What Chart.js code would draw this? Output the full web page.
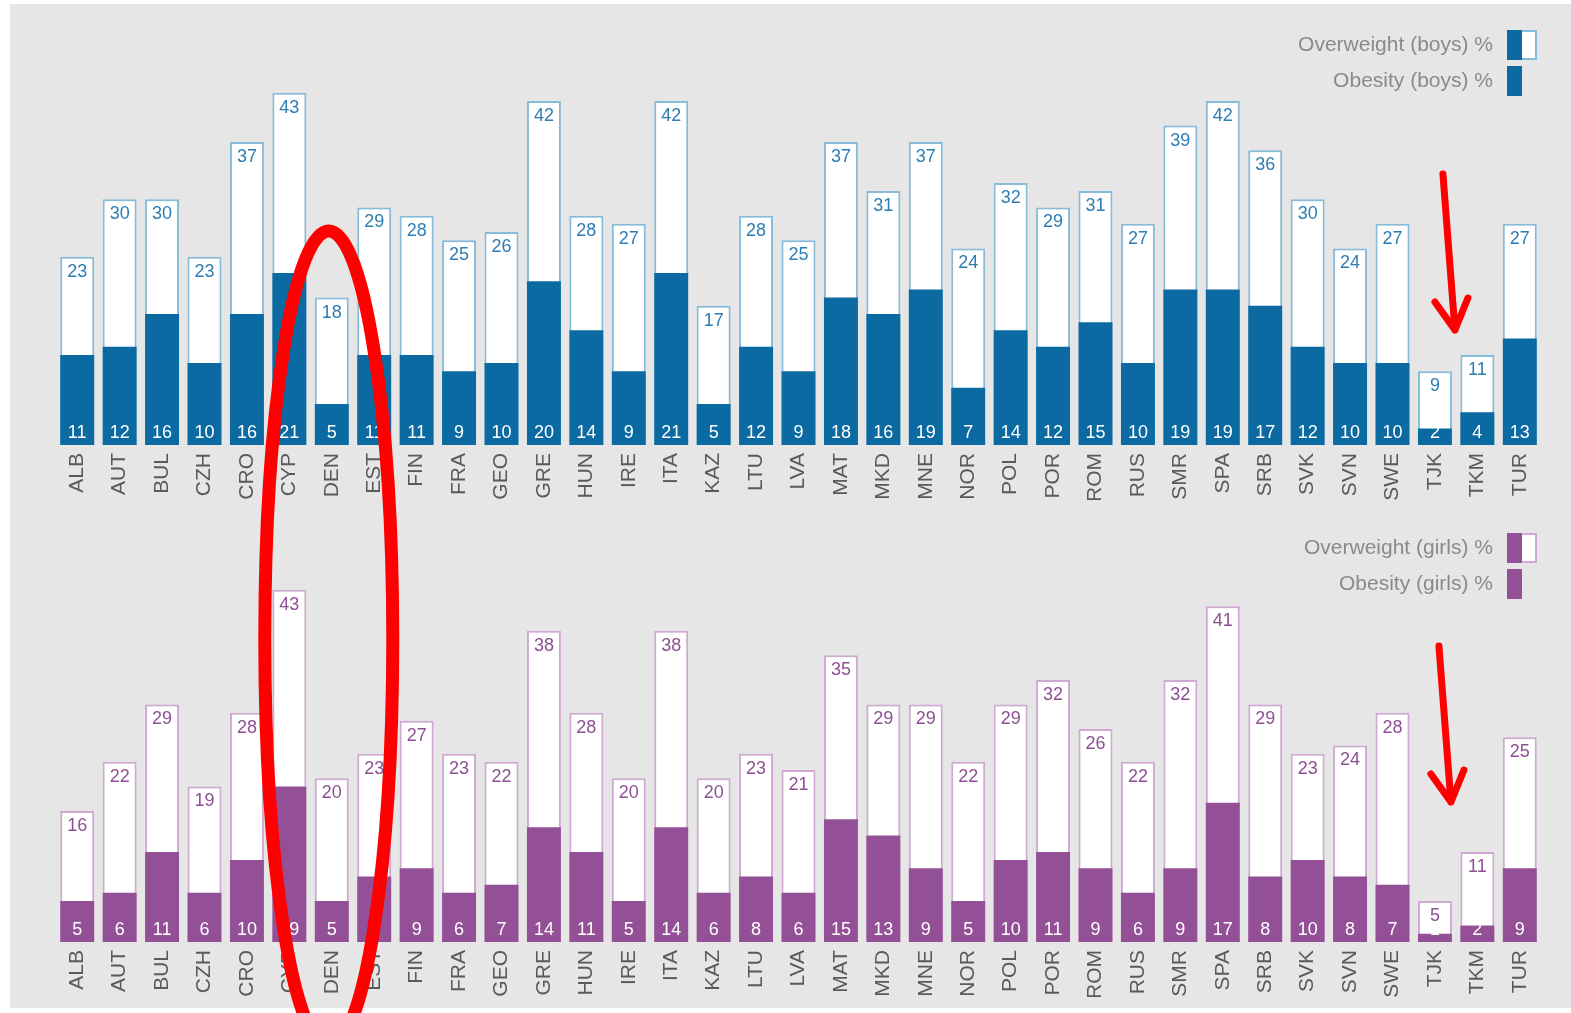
<!DOCTYPE html>
<html>
<head>
<meta charset="utf-8">
<script src="https://cdn.jsdelivr.net/npm/chart.js@4.4.0/dist/chart.umd.min.js"></script>
<style>
body{margin:0;background:#fff;width:1571px;height:1013px;overflow:hidden;position:relative}
#bg{position:absolute;left:10px;top:4px;width:1561px;height:1004px;background:#e6e6e6}
canvas{position:absolute;left:0}
</style>
</head>
<body>
<div id="bg"></div>
<canvas id="boysChart" width="1571" height="500" style="top:0"></canvas>
<canvas id="girlsChart" width="1571" height="500" style="top:497px"></canvas>
<canvas id="marks" width="1571" height="1013" style="top:0;pointer-events:none"></canvas>
<script>
// data
var countries = ['ALB','AUT','BUL','CZH','CRO','CYP','DEN','EST','FIN','FRA','GEO','GRE','HUN','IRE','ITA','KAZ','LTU','LVA','MAT','MKD','MNE','NOR','POL','POR','ROM','RUS','SMR','SPA','SRB','SVK','SVN','SWE','TJK','TKM','TUR'];
var boysOverweight = [23,30,30,23,37,43,18,29,28,25,26,42,28,27,42,17,28,25,37,31,37,24,32,29,31,27,39,42,36,30,24,27,9,11,27];
var boysObesity    = [11,12,16,10,16,21,5,11,11,9,10,20,14,9,21,5,12,9,18,16,19,7,14,12,15,10,19,19,17,12,10,10,2,4,13];
var girlsOverweight = [16,22,29,19,28,43,20,23,27,23,22,38,28,20,38,20,23,21,35,29,29,22,29,32,26,22,32,41,29,23,24,28,5,11,25];
var girlsObesity    = [5,6,11,6,10,19,5,8,9,6,7,14,11,5,14,6,8,6,15,13,9,5,10,11,9,6,9,17,8,10,8,7,1,2,9];

var labelFont = '"Liberation Sans", Arial, sans-serif';

// numbers inside the bars + the small legend top right
var barLabels = {
  id: 'barLabels',
  afterDatasetsDraw: function(chart, args, opts) {
    var ctx = chart.ctx;
    var fat = chart.data.datasets[0], over = chart.data.datasets[1];
    var meta = chart.getDatasetMeta(1);
    ctx.save();
    ctx.font = '18px ' + labelFont;
    ctx.textAlign = 'center';
    ctx.textBaseline = 'middle';
    meta.data.forEach(function(bar, i) {
      ctx.fillStyle = opts.textColor;
      ctx.fillText(over.data[i], bar.x, bar.y + 15);
      ctx.fillStyle = '#fff';
      ctx.fillText(fat.data[i], bar.x, bar.base - 12);
    });

    // legend
    var right = 1493, bx = 1507, y0 = opts.legendTop;
    ctx.font = '21px ' + labelFont;
    ctx.textAlign = 'right';
    ctx.fillStyle = '#8a8a8a';
    ctx.fillText(over.label, right, y0);
    ctx.fillText(fat.label, right, y0 + 36);
    ctx.fillStyle = '#fff';
    ctx.fillRect(bx, y0 - 15, 30, 30);
    ctx.strokeStyle = opts.lineColor;
    ctx.lineWidth = 2;
    ctx.strokeRect(bx + 1, y0 - 14, 28, 28);
    ctx.fillStyle = opts.fillColor;
    ctx.fillRect(bx, y0 - 15, 15, 30);
    ctx.fillRect(bx, y0 + 21, 15, 30);
    ctx.restore();
  }
};

function makeChart(id, over, fat, who, fill, line, text, legendTop) {
  return new Chart(document.getElementById(id), {
    type: 'bar',
    data: {
      labels: countries,
      datasets: [{
        label: 'Obesity (' + who + ') %',
        data: fat,
        backgroundColor: fill,
        borderWidth: 0
      }, {
        label: 'Overweight (' + who + ') %',
        data: over,
        backgroundColor: '#ffffff',
        borderColor: line,
        borderWidth: 2
      }]
    },
    options: {
      responsive: false,
      animation: false,
      layout: { padding: { left: 56, right: 30, top: 35.5, bottom: 0 } },
      datasets: { bar: { categoryPercentage: 1, barPercentage: 0.8 } },
      scales: {
        x: {
          stacked: true,
          grid: { display: false },
          border: { display: false },
          afterFit: function(s) { s.height = 55; },
          ticks: {
            autoSkip: false, minRotation: 90, maxRotation: 90, padding: 0,
            color: '#5a5a5a', font: { family: labelFont, size: 21 }
          }
        },
        y: { display: false, min: 0, max: 50, stacked: false }
      },
      plugins: {
        legend: { display: false },
        tooltip: { enabled: false },
        barLabels: { textColor: text, fillColor: fill, lineColor: line, legendTop: legendTop }
      }
    },
    plugins: [barLabels]
  });
}

var boys = makeChart('boysChart', boysOverweight, boysObesity, 'boys', '#0b6aa2', '#86bbd9', '#2d7db3', 45);
var girls = makeChart('girlsChart', girlsOverweight, girlsObesity, 'girls', '#935096', '#cfa9d2', '#8d4f93', 51);

// red marks drawn on top, placed from the category scale
var mctx = document.getElementById('marks').getContext('2d');
mctx.strokeStyle = '#ff0000';
mctx.lineCap = 'round';
mctx.lineJoin = 'round';
var denX = boys.scales.x.getPixelForValue(countries.indexOf('DEN'));
mctx.lineWidth = 13;
mctx.beginPath();
mctx.ellipse(denX - 3, 639, 64, 408, 0, 0, Math.PI * 2);
mctx.stroke();

function arrow(x0, y0, x1, y1) {
  mctx.lineWidth = 7;
  mctx.beginPath();
  mctx.moveTo(x0, y0);
  mctx.lineTo(x1, y1);
  mctx.moveTo(x1 - 20, y1 - 28);
  mctx.lineTo(x1, y1);
  mctx.lineTo(x1 + 13, y1 - 32);
  mctx.stroke();
}
var tjkX = boys.scales.x.getPixelForValue(countries.indexOf('TJK'));
arrow(tjkX + 8, 174, tjkX + 20, 330);
arrow(tjkX + 4, 646, tjkX + 16, 802);
</script>
</body>
</html>
